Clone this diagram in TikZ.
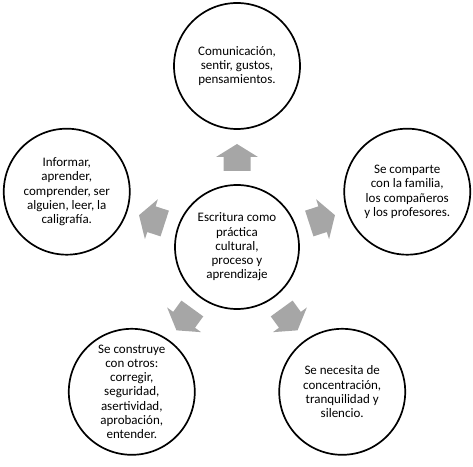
\documentclass[tikz,border=0pt]{standalone}
\usepackage{fontspec}
\setmainfont{Carlito}
\usetikzlibrary{calc}
\begin{document}
\begin{tikzpicture}[x=1pt,y=1pt,
  bubble/.style={circle,draw=black,line width=1.7pt,minimum size=126pt,inner sep=0pt,align=center,
    font=\fontsize{13}{14.3}\selectfont},
  blockarrow/.style={fill=arrowgray,draw=none}]
\definecolor{arrowgray}{HTML}{A6A6A6}
\useasboundingbox (0,0) rectangle (473,466);
\coordinate (c) at (237,219);
\node[bubble,minimum size=124pt] (center) at (c) {Escritura como\\práctica\\cultural,\\proceso y\\aprendizaje};
\node[bubble] (top) at ($(c)+(90:181)$) {Comunicación,\\sentir, gustos,\\pensamientos.};
\node[bubble] (right) at ($(c)+(18:179)$) {Se comparte\\con la familia,\\los compañeros\\y los profesores.};
\node[bubble] (bright) at ($(c)+(-54:179)$) {Se necesita de\\concentración,\\tranquilidad y\\silencio.};
\node[bubble] (bleft) at ($(c)+(234:179)$) {Se construye\\con otros:\\corregir,\\seguridad,\\asertividad,\\aprobación,\\entender.};
\node[bubble] (left) at ($(c)+(162:179)$) {Informar,\\aprender,\\comprender, ser\\alguien, leer, la\\caligrafía.};
\foreach \a in {90,18,-54,234,162}{
  \begin{scope}[shift={(center.center)},rotate=\a]
    \fill[blockarrow] (76,-13.5) -- (90,-13.5) -- (90,-21) -- (103,0) -- (90,21) -- (90,13.5) -- (76,13.5) -- cycle;
  \end{scope}
}
\end{tikzpicture}
\end{document}
